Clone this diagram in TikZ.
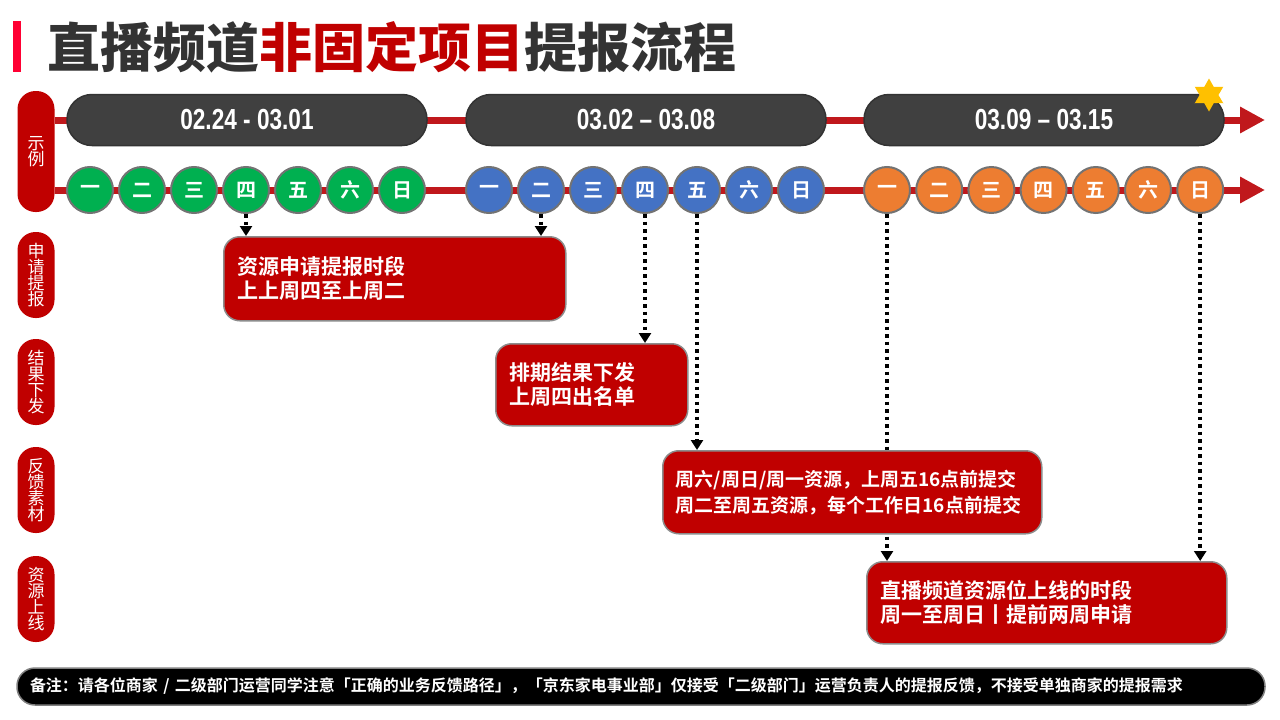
\documentclass[tikz,border=0pt]{standalone}
\usepackage{fontspec}
\setmainfont{Noto Sans CJK SC}[BoldFont={Noto Sans CJK SC Bold}]
\newfontfamily\titlefont{Noto Sans CJK SC Black}
\newfontfamily\datefont{Liberation Sans}[FakeStretch=0.78]
\usetikzlibrary{arrows.meta,shapes.geometric,backgrounds}
\definecolor{BoxRed}{RGB}{192,0,0}
\definecolor{LineRed}{RGB}{192,24,28}
\definecolor{BarRed}{RGB}{255,0,51}
\definecolor{WeekGray}{RGB}{64,64,64}
\definecolor{TitleGray}{RGB}{51,51,51}
\definecolor{DayGreen}{RGB}{0,176,80}
\definecolor{DayBlue}{RGB}{68,114,196}
\definecolor{DayOrange}{RGB}{237,125,49}
\definecolor{StarGold}{RGB}{255,192,0}

\begin{document}
\begin{tikzpicture}[x=1pt,y=-1pt,
  week/.style={rectangle,rounded corners=25pt,draw=black!80,line width=1.5pt,fill=WeekGray,minimum width=360pt,minimum height=51pt,text=white,font=\datefont\bfseries\fontsize{29}{30}\selectfont},
  day/.style={circle,draw=black!55,line width=2pt,minimum size=46pt,inner sep=0pt,text=white,font=\bfseries\fontsize{20}{20}\selectfont},
  tag/.style={rectangle,rounded corners=18pt,fill=BoxRed,minimum width=37pt,minimum height=86pt,inner sep=0pt,text=white,align=center,font=\fontsize{17}{16}\selectfont},
  card/.style={rectangle,rounded corners=16pt,draw=black!45,line width=1.5pt,fill=BoxRed,anchor=north west,inner xsep=14pt,text width=#1,align=left,text=white,font=\bfseries\fontsize{21}{24}\selectfont},
  redline/.style={LineRed,line width=7pt,-{Triangle[length=25pt,width=25pt]}},
  darr/.style={line width=3.5pt,dash pattern=on 3.5pt off 4pt,-{Triangle[length=10pt,width=12pt]}}
]
\useasboundingbox (0,0) rectangle (1280,720);
\fill[BarRed] (13,21) rectangle (21,72);
\node[anchor=west,inner sep=0pt,text=TitleGray,font=\titlefont\fontsize{53}{53}\selectfont] (title) at (47,47) {直播频道\textcolor{BoxRed}{非固定项目}提报流程};

\node[tag,minimum height=121pt] (demo) at (36,151.5) {示\\例};
\node[tag] (apply) at (36,275) {申\\请\\提\\报};
\node[tag] (result) at (36,382) {结\\果\\下\\发};
\node[tag] (feedback) at (36,490) {反\\馈\\素\\材};
\node[tag] (online) at (36,599) {资\\源\\上\\线};

\coordinate (tip1) at (1265,120);
\coordinate (tip2) at (1265,190);
\draw[redline] (demo.east |- tip1) -- (tip1);
\draw[redline] (demo.east |- tip2) -- (tip2);

\node[week] (w1) at (247,120) {02.24 - 03.01};
\node[week] (w2) at (646,120) {03.02 – 03.08};
\node[week] (w3) at (1044,120) {03.09 – 03.15};
\node[star,star points=6,star point ratio=1.75,fill=StarGold,minimum size=33pt,inner sep=0pt] (star) at (1209,95) {};

\foreach \d [count=\i] in {一,二,三,四,五,六,日} {
  \node[day,fill=DayGreen] (g\i) at ({90+52*(\i-1)},190) {\d};
  \node[day,fill=DayBlue] (b\i) at ({489+52*(\i-1)},190) {\d};
  \node[day,fill=DayOrange] (o\i) at ({887+52.2*(\i-1)},190) {\d};
}

\node[card=314pt,minimum height=84pt] (card1) at (223,236) {资源申请提报时段\\上上周四至上周二};
\node[card=164pt,minimum height=82pt] (card2) at (495,343) {排期结果下发\\上周四出名单};
\node[card=353pt,minimum height=83pt,inner xsep=13pt,font=\bfseries\fontsize{19}{26}\selectfont] (card3) at (662,450) {周六/周日/周一资源，上周五16点前提交\\周二至周五资源，每个工作日16点前提交};
\node[card=332pt,minimum height=82pt] (card4) at (866,561) {直播频道资源位上线的时段\\周一至周日丨提前两周申请};

\begin{scope}[on background layer]
\draw[darr] (g4.south) -- (g4.south |- card1.north);
\draw[darr] (b2.south) -- (b2.south |- card1.north);
\draw[darr] (b4.south) -- (b4.south |- card2.north);
\draw[darr] (b5.south) -- (b5.south |- card3.north);
\draw[darr] (o1.south) -- (o1.south |- card4.north);
\draw[darr] (o7.south) -- (o7.south |- card4.north);
\end{scope}

\node[rectangle,rounded corners=18pt,fill=black,draw=black!50,line width=1.5pt,minimum height=37pt,inner xsep=13pt,text width=1222pt,align=left,text=white,font=\bfseries\fontsize{16}{18}\selectfont] (note) at (641,686.5) {备注：请各位商家 / 二级部门运营同学注意「正确的业务反馈路径」，「京东家电事业部」仅接受「二级部门」运营负责人的提报反馈，不接受单独商家的提报需求};
\end{tikzpicture}
\end{document}
